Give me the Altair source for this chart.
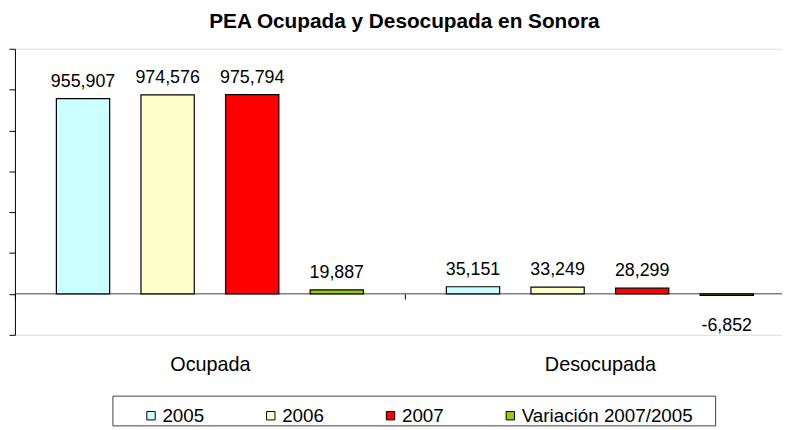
import altair as alt
import pandas as pd

grupos = ["Ocupada", "Desocupada"]
series = ["2005", "2006", "2007", "Variación 2007/2005"]
ocupada = [955907, 974576, 975794, 19887]
desocupada = [35151, 33249, 28299, -6852]
colores = ["#CCFFFF", "#FFFFCC", "#FF0000", "#99CC00"]
y_ticks = [-200000, 0, 200000, 400000, 600000, 800000, 1000000, 1200000]

rows = []
for g, vals in zip(grupos, [ocupada, desocupada]):
    for s, v in zip(series, vals):
        rows.append({"grupo": g, "serie": s, "valor": v, "etiqueta": f"{v:,}"})
df = pd.DataFrame(rows)

FONT = "Liberation Sans"
W, H = 775, 289
BAND = 394

x_enc = alt.X(
    "grupo:N", sort=grupos,
    scale=alt.Scale(range=[0, 2 * BAND], paddingInner=0, paddingOuter=0),
    axis=alt.Axis(
        title=None, grid=False, labelAngle=0, tickBand="extent",
        domain=True, domainColor="#808080", domainWidth=1.5, offset=-42,
        ticks=True, tickColor="black", tickSize=6, tickWidth=1,
        labelFontSize=20, labelFont=FONT, labelColor="black",
        labelPadding=56,
    ),
)
xo_enc = alt.XOffset("serie:N", sort=series,
                     scale=alt.Scale(paddingInner=0.37, paddingOuter=0.49))
y_scale = alt.Scale(domain=[-200000, 1200000], nice=False, zero=False)
y_enc = alt.Y(
    "valor:Q", scale=y_scale,
    axis=alt.Axis(title=None, values=y_ticks, labels=False, grid=False,
                  domainColor="black", tickColor="black", tickSize=6),
)

one = alt.Data(values=[{"k": 1}])

base = alt.Chart(df)
bars = base.mark_bar(stroke="black", strokeWidth=1.2).encode(
    x=x_enc, xOffset=xo_enc, y=y_enc, y2=alt.datum(0),
    color=alt.Color(
        "serie:N", sort=series,
        scale=alt.Scale(domain=series, range=colores),
        legend=alt.Legend(
            title=None, orient="none", legendX=128, legendY=361,
            direction="horizontal", columns=4, columnPadding=57,
            symbolType="square", symbolSize=72, symbolStrokeColor="black",
            symbolStrokeWidth=1, labelFont=FONT, labelFontSize=19,
            labelColor="black", labelOffset=2, padding=0, labelLimit=400,
        ),
    ),
)
pos_labels = base.transform_filter("datum.valor >= 0").mark_text(
    font=FONT, fontSize=18, color="black", baseline="alphabetic", dy=-12
).encode(x=x_enc, xOffset=xo_enc, y=y_enc, text="etiqueta:N")
neg_labels = base.transform_filter("datum.valor < 0").mark_text(
    font=FONT, fontSize=18, color="black", baseline="alphabetic", dy=36
).encode(x=x_enc, xOffset=xo_enc, y=y_enc, text="etiqueta:N")

legend_box = alt.Chart(one).mark_rect(fill="white", stroke="#404040", strokeWidth=1).encode(
    x=alt.value(99), x2=alt.value(708), y=alt.value(351), y2=alt.value(381)
)

chart = alt.layer(legend_box, bars, pos_labels, neg_labels).properties(
    width=W, height=H,
    title=alt.TitleParams(
        "PEA Ocupada y Desocupada en Sonora", font=FONT, fontSize=21,
        fontWeight="bold", color="black", anchor="middle", offset=20,
        baseline="alphabetic", dx=6, dy=21,
    ),
    autosize=alt.AutoSizeParams(type="none"),
    padding={"left": 7, "top": 39, "right": 0, "bottom": 94},
).configure_view(stroke="transparent", strokeWidth=0).configure_axis(grid=False).configure(background="white")

chart.save("out.html", embed_options={"renderer": "svg", "actions": False})
